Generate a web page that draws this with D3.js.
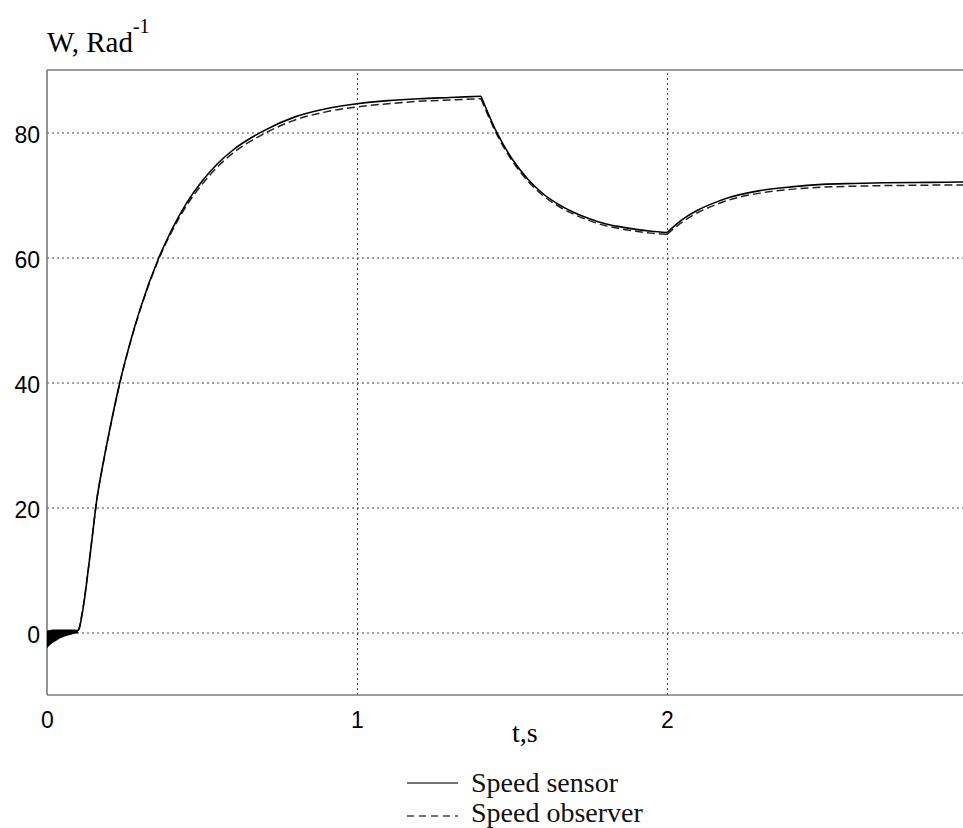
<!DOCTYPE html>
<html>
<head>
<meta charset="utf-8">
<script src="https://cdn.jsdelivr.net/npm/d3@7"></script>
<style>
  body { margin: 0; background: #fff; }
  svg { display: block; background: #fff; }
  .tick text { font-family: "Liberation Sans", Arial, sans-serif; font-size: 23px; fill: #000; }
  .serif { font-family: "Liberation Serif", "Times New Roman", serif; fill: #000; }
</style>
</head>
<body>
<svg id="chart"></svg>
<script>
// time axis, s
const time = [0.10, 0.105, 0.11, 0.12, 0.13, 0.14, 0.15, 0.158, 0.18, 0.20, 0.235, 0.27, 0.30, 0.361,
  0.40, 0.45, 0.50, 0.55, 0.60, 0.70, 0.80, 0.90, 1.00, 1.10, 1.20, 1.30, 1.40,
  1.45, 1.50, 1.55, 1.60, 1.65, 1.70, 1.75, 1.80, 1.85, 1.90, 1.95, 2.00,
  2.05, 2.10, 2.15, 2.20, 2.30, 2.40, 2.50, 2.60, 2.70, 2.80, 2.90, 3.00];

const speedSensor = [0.3, 0.8, 2.0, 5.0, 8.8, 12.8, 17.0, 20.3, 26.8, 31.9, 40.0, 46.7, 51.7, 60.0,
  64.2, 68.7, 72.2, 75.0, 77.2, 80.3, 82.5, 83.8, 84.6, 85.1, 85.4, 85.6, 85.8,
  80.1, 75.8, 72.6, 70.2, 68.5, 67.2, 66.2, 65.4, 64.9, 64.5, 64.2, 64.0,
  66.1, 67.6, 68.7, 69.6, 70.7, 71.3, 71.7, 71.85, 71.95, 72.0, 72.05, 72.1];

const speedObserver = [0.3, 0.9, 2.2, 5.2, 8.9, 12.9, 17.0, 20.3, 26.7, 31.8, 39.9, 46.6, 51.5, 59.8,
  63.9, 68.3, 71.7, 74.5, 76.7, 79.8, 82.0, 83.3, 84.1, 84.6, 85.0, 85.2, 85.4,
  79.8, 75.5, 72.3, 69.9, 68.2, 66.9, 65.9, 65.1, 64.6, 64.2, 63.9, 63.7,
  65.7, 67.2, 68.3, 69.2, 70.3, 70.9, 71.25, 71.4, 71.5, 71.55, 71.6, 71.6];

// load steps: curves have a corner here
const segmentBreaks = [1.40, 2.00];

// start-up chatter before t = 0.1 s (envelope of the oscillation)
const oscTime  = [0, 0.01, 0.02, 0.03, 0.04, 0.05, 0.06, 0.07, 0.08, 0.09, 0.10];
const oscUpper = [0.3, 0.4, 0.5, 0.5, 0.5, 0.5, 0.5, 0.5, 0.5, 0.5, 0.4];
const oscLower = [-2.5, -2.0, -1.6, -1.3, -1.0, -0.8, -0.6, -0.45, -0.3, -0.2, -0.1];

const xTicks = [0, 1, 2];
const yTicks = [0, 20, 40, 60, 80];

const seriesNames = ["Speed sensor", "Speed observer"];

const W = 963, H = 828;
const mLeft = 47, mTop = 70, mBottom = 695;

const svg = d3.select("#chart").attr("width", W).attr("height", H);

const x = d3.scaleLinear().domain([0, 3]).range([mLeft, mLeft + 930]);
const y = d3.scaleLinear().domain([-10, 90]).range([mBottom, mTop]);

svg.append("defs").append("clipPath").attr("id", "plot")
  .append("rect").attr("x", mLeft).attr("y", mTop).attr("width", W - mLeft).attr("height", mBottom - mTop);

// grid
svg.append("g")
  .attr("transform", `translate(${mLeft},0)`)
  .call(d3.axisLeft(y).tickValues(yTicks).tickSize(-(W - mLeft)).tickFormat(""))
  .call(g => g.select(".domain").remove())
  .selectAll("line").attr("stroke", "#444").attr("stroke-dasharray", "2,3");

svg.append("g")
  .attr("transform", `translate(0,${mBottom})`)
  .call(d3.axisBottom(x).tickValues(xTicks.filter(d => d > 0)).tickSize(-(mBottom - mTop)).tickFormat(""))
  .call(g => g.select(".domain").remove())
  .selectAll("line").attr("stroke", "#444").attr("stroke-dasharray", "2,3");

// tick labels
svg.append("g")
  .attr("transform", `translate(${mLeft},0)`)
  .call(d3.axisLeft(y).tickValues(yTicks).tickSize(0).tickPadding(7))
  .call(g => g.select(".domain").remove())
  .selectAll("text").attr("dy", "0.45em");

svg.append("g")
  .attr("transform", `translate(0,${mBottom})`)
  .call(d3.axisBottom(x).tickValues(xTicks).tickFormat(d3.format("d")).tickSize(0).tickPadding(17))
  .call(g => g.select(".domain").remove());

// frame
const frame = svg.append("g").attr("stroke", "#7a7a7a").attr("stroke-width", 1.6).attr("fill", "none");
frame.append("line").attr("x1", mLeft).attr("x2", W).attr("y1", mTop).attr("y2", mTop);
frame.append("line").attr("x1", mLeft).attr("x2", mLeft).attr("y1", mTop).attr("y2", mBottom);
frame.append("line").attr("x1", mLeft).attr("x2", W).attr("y1", mBottom).attr("y2", mBottom);

const plot = svg.append("g").attr("clip-path", "url(#plot)");

// oscillation band
plot.append("path")
  .datum(oscTime.map((t, i) => [t, oscUpper[i], oscLower[i]]))
  .attr("fill", "#000")
  .attr("d", d3.area().x(d => x(d[0])).y0(d => y(d[2])).y1(d => y(d[1])).curve(d3.curveMonotoneX));

function segments(values) {
  let bounds = [time[0], ...segmentBreaks, time[time.length - 1]];
  let pts = time.map((t, i) => [t, values[i]]);
  return d3.pairs(bounds).map(([a, b]) => pts.filter(d => d[0] >= a && d[0] <= b));
}

const line = d3.line().x(d => x(d[0])).y(d => y(d[1])).curve(d3.curveMonotoneX);

plot.append("g").selectAll("path")
  .data(segments(speedObserver))
  .join("path")
    .attr("fill", "none")
    .attr("stroke", "#222")
    .attr("stroke-width", 1.5)
    .attr("stroke-dasharray", "8,4")
    .attr("d", line);

plot.append("g").selectAll("path")
  .data(segments(speedSensor))
  .join("path")
    .attr("fill", "none")
    .attr("stroke", "#000")
    .attr("stroke-width", 1.6)
    .attr("d", line);

// axis titles
const yTitle = svg.append("text").attr("class", "serif").attr("x", mLeft).attr("y", 52).style("font-size", "29px");
yTitle.append("tspan").text("W, Rad");
yTitle.append("tspan").attr("dy", -19).style("font-size", "20px").text("-1");

svg.append("text").attr("class", "serif").attr("x", 512).attr("y", 742).style("font-size", "28px").text("t,s");

// legend
const legend = svg.append("g").selectAll("g")
  .data(seriesNames)
  .join("g")
    .attr("transform", (d, i) => `translate(407,${783 + i * 33})`);

legend.append("line")
  .attr("x1", 0).attr("x2", 51)
  .attr("stroke", "#444")
  .attr("stroke-width", 1.3)
  .attr("stroke-dasharray", (d, i) => i ? "7,5" : null);

legend.append("text")
  .attr("class", "serif")
  .attr("x", 64)
  .attr("y", (d, i) => i ? 6 : 9)
  .style("font-size", "28px")
  .style("fill", "#111")
  .text(d => d);
</script>
</body>
</html>
